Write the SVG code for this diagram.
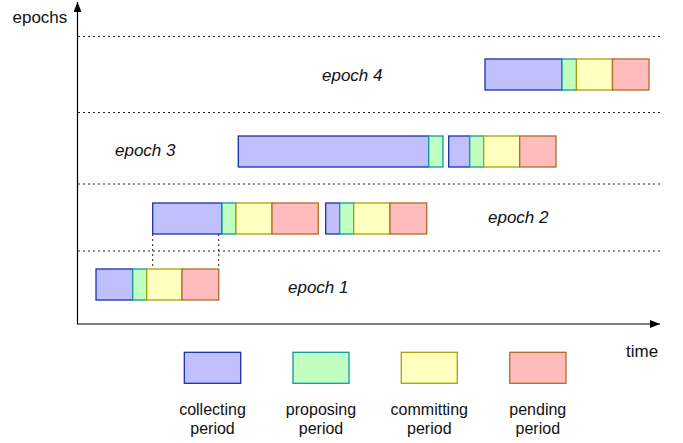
<svg xmlns="http://www.w3.org/2000/svg" width="683" height="443" viewBox="0 0 683 443">
<style>
text{font-family:"Liberation Sans",Arial,sans-serif;font-size:17px;fill:#111}
.ep{font-style:italic}
.lg{font-size:16px}
.c{fill:#c0c0ff;stroke:#1a2fae;stroke-width:1.3}
.p{fill:#c0ffc0;stroke:#10999a;stroke-width:1.3}
.m{fill:#ffffc0;stroke:#a9a10e;stroke-width:1.3}
.n{fill:#ffbcbc;stroke:#b06a2a;stroke-width:1.3}
.dot{stroke:#222;stroke-width:1;stroke-dasharray:2 3;fill:none}
.ax{stroke:#000;stroke-width:1.2;fill:none}
</style>
<defs>
<marker id="ah" viewBox="0 0 10 8" refX="10" refY="4" markerWidth="10" markerHeight="8" markerUnits="userSpaceOnUse" orient="auto">
<path d="M0,0 L10,4 L0,8 Z" fill="#000"/>
</marker>
</defs>
<g id="connectors">
<line class="dot" x1="78" y1="36.5" x2="660" y2="36.5"/>
<line class="dot" x1="78" y1="112.5" x2="660" y2="112.5"/>
<line class="dot" x1="78" y1="184" x2="660" y2="184"/>
<line class="dot" x1="78" y1="251" x2="660" y2="251"/>
<line class="dot" x1="152.7" y1="234" x2="152.7" y2="269"/>
<line class="dot" x1="218.7" y1="234" x2="218.7" y2="269"/>
<line class="ax" x1="77.5" y1="324" x2="77.5" y2="2" marker-end="url(#ah)"/>
<line class="ax" x1="77" y1="324" x2="660" y2="324" marker-end="url(#ah)"/>
</g>
<g id="epoch4-bar">
<rect class="c" x="485" y="59" width="77" height="31"/>
<rect class="p" x="562" y="59" width="14.5" height="31"/>
<rect class="m" x="576.5" y="59" width="36" height="31"/>
<rect class="n" x="612.5" y="59" width="36.5" height="31"/>
</g>
<g id="epoch3-bar-a">
<rect class="c" x="238.3" y="136" width="190.4" height="31"/>
<rect class="p" x="428.7" y="136" width="14.3" height="31"/>
</g>
<g id="epoch3-bar-b">
<rect class="c" x="448.7" y="136" width="21" height="31"/>
<rect class="p" x="469.7" y="136" width="14" height="31"/>
<rect class="m" x="483.7" y="136" width="36" height="31"/>
<rect class="n" x="519.7" y="136" width="36.3" height="31"/>
</g>
<g id="epoch2-bar-a">
<rect class="c" x="152.7" y="203" width="69.3" height="31"/>
<rect class="p" x="222" y="203" width="14" height="31"/>
<rect class="m" x="236" y="203" width="36" height="31"/>
<rect class="n" x="272" y="203" width="46.3" height="31"/>
</g>
<g id="epoch2-bar-b">
<rect class="c" x="325.7" y="203" width="14" height="31"/>
<rect class="p" x="339.7" y="203" width="14" height="31"/>
<rect class="m" x="353.7" y="203" width="36.3" height="31"/>
<rect class="n" x="390" y="203" width="36.7" height="31"/>
</g>
<g id="epoch1-bar">
<rect class="c" x="96" y="269" width="36.7" height="31"/>
<rect class="p" x="132.7" y="269" width="14" height="31"/>
<rect class="m" x="146.7" y="269" width="35.3" height="31"/>
<rect class="n" x="182" y="269" width="36.7" height="31"/>
</g>
<g id="labels">
<text x="12.5" y="23">epochs</text>
<text x="626" y="357">time</text>
<text class="ep" x="322" y="81">epoch 4</text>
<text class="ep" x="115" y="156">epoch 3</text>
<text class="ep" x="488" y="223">epoch 2</text>
<text class="ep" x="288" y="293">epoch 1</text>
</g>
<g id="legend-collecting">
<rect class="c" x="184.3" y="352.3" width="56.4" height="31"/>
<text class="lg" x="212.5" y="415" text-anchor="middle">collecting</text>
<text class="lg" x="212.5" y="433.5" text-anchor="middle">period</text>
</g>
<g id="legend-proposing">
<rect class="p" x="293" y="352.3" width="56" height="31"/>
<text class="lg" x="321" y="415" text-anchor="middle">proposing</text>
<text class="lg" x="321" y="433.5" text-anchor="middle">period</text>
</g>
<g id="legend-committing">
<rect class="m" x="401.3" y="352.3" width="56" height="31"/>
<text class="lg" x="429.3" y="415" text-anchor="middle">committing</text>
<text class="lg" x="429.3" y="433.5" text-anchor="middle">period</text>
</g>
<g id="legend-pending">
<rect class="n" x="509.7" y="352.3" width="56.3" height="31"/>
<text class="lg" x="537.8" y="415" text-anchor="middle">pending</text>
<text class="lg" x="537.8" y="433.5" text-anchor="middle">period</text>
</g>
</svg>
